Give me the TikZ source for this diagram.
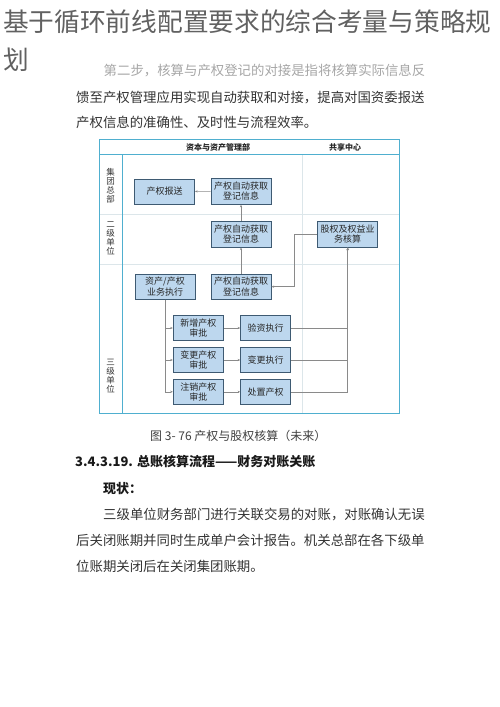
\documentclass[tikz,border=0pt]{standalone}
\usepackage{fontspec}
\setmainfont{Noto Sans CJK SC}
\usepackage{tikz}
\usepackage{xcolor}
\usetikzlibrary{positioning, arrows.meta}
\definecolor{frameblue}{HTML}{4FAFCF}
\definecolor{lanegray}{HTML}{DCE6EA}
\definecolor{boxfill}{HTML}{BDD7EE}
\definecolor{boxline}{HTML}{3E5A72}
\definecolor{wiregray}{HTML}{8A8A8A}

\begin{document}
\begin{tikzpicture}[x=1pt, y=-1pt,
    box/.style = {draw=boxline, fill=boxfill, line width=1pt, minimum width=60pt, minimum height=25pt, inner sep=1pt, align=center, font=\fontsize{9}{10.5}\selectfont, text=black!85},
    smallbox/.style = {box, minimum width=50pt},
    wire/.style = {draw=wiregray, line width=0.6pt, -{Stealth[length=2.6pt, width=2.2pt]}},
    lane/.style = {draw=lanegray, line width=0.6pt},
    rim/.style = {draw=frameblue, line width=1pt},
    lbl/.style = {align=center, font=\fontsize{8.5}{9}\selectfont, text=black!80},
    head/.style = {font=\fontsize{8}{9}\selectfont\bfseries, text=black!85},
    body/.style = {anchor=base west, inner sep=0pt, font=\fontsize{13.4}{16}\selectfont, text=black!80}]
    \useasboundingbox (0,0) rectangle (500,707);

    % title and text above the chart
    \node[anchor=base west, inner sep=0pt, font=\fontsize{25.7}{30}\selectfont, text=black!62] (title1) at (3,31) {基于循环前线配置要求的综合考量与策略规};
    \node[anchor=base west, inner sep=0pt, font=\fontsize{25.7}{30}\selectfont, text=black!62] (title2) at (3,69) {划};
    \node[body, text=black!35] (p1) at (103.5,75) {第二步，核算与产权登记的对接是指将核算实际信息反};
    \node[body] (p2) at (76,102) {馈至产权管理应用实现自动获取和对接，提高对国资委报送};
    \node[body] (p3) at (76,127) {产权信息的准确性、及时性与流程效率。};

    % swim lanes
    \draw[lane] (99.5,214) -- (399,214);
    \draw[lane] (99.5,264) -- (399,264);
    \draw[lane] (302,154) -- (302,413);
    \draw[rim] (99.5,154) -- (399,154);
    \draw[rim] (122,154) -- (122,413);
    \draw[rim] (99.5,139.5) rectangle (399,413);
    \node[head] (hasset) at (218,147) {资本与资产管理部};
    \node[head] (hshare) at (345,147) {共享中心};
    \node[lbl] (lgroup) at (110.5,186) {集\\团\\总\\部};
    \node[lbl] (lsecond) at (110.5,238) {二\\级\\单\\位};
    \node[lbl] (lthird) at (110.5,376) {三\\级\\单\\位};

    % boxes
    \node[box] (bao) at (164.5,191.5) {产权报送};
    \node[box, minimum height=26pt] (zd1) at (241,191.3) {产权自动获取\\登记信息};
    \node[box, minimum height=26pt] (zd2) at (241,234) {产权自动获取\\登记信息};
    \node[box, minimum height=26pt] (gq) at (347.7,234) {股权及权益业\\务核算};
    \node[box] (zc) at (165,286.7) {资产/产权\\业务执行};
    \node[box] (zd3) at (241,286.7) {产权自动获取\\登记信息};
    \node[smallbox] (xz) at (198.3,328) {新增产权\\审批};
    \node[smallbox] (bg) at (198.3,360) {变更产权\\审批};
    \node[smallbox] (zx) at (198.3,391.8) {注销产权\\审批};
    \node[smallbox] (ys) at (265.7,328) {验资执行};
    \node[smallbox] (bz) at (265.7,360) {变更执行};
    \node[smallbox] (cz) at (265.7,391.8) {处置产权};

    % connectors
    \draw[wire] (zd3) -- (zd2);
    \draw[wire] (zd2) -- (zd1);
    \draw[wire] (zd1) -- (bao);
    \draw[wire] (zc.south) |- (xz.west);
    \draw[wire] (zc.south) |- (bg.west);
    \draw[wire] (zc.south) |- (zx.west);
    \draw[wire] (xz) -- (ys);
    \draw[wire] (bg) -- (bz);
    \draw[wire] (zx) -- (cz);
    \draw[wire] (ys.east) -| (gq.south);
    \draw[wire] (bz.east) -| (gq.south);
    \draw[wire] (cz.east) -| (gq.south);
    \coordinate (bend) at (294.3,234);
    \draw[wire] (gq.west) -- (bend) |- (zd3.east);

    % text below the chart
    \node[anchor=base west, inner sep=0pt, font=\fontsize{12}{14}\selectfont, text=black!75] (cap) at (150,440) {图 3- 76 产权与股权核算（未来）};
    \node[body, font=\fontsize{13}{16}\selectfont\bfseries, text=black!90] (sec) at (75,466) {3.4.3.19. 总账核算流程——财务对账关账};
    \node[body, font=\fontsize{13}{16}\selectfont\bfseries, text=black!90] (now) at (103,493) {现状：};
    \node[body] (q1) at (103,519) {三级单位财务部门进行关联交易的对账，对账确认无误};
    \node[body] (q2) at (76,545) {后关闭账期并同时生成单户会计报告。机关总部在各下级单};
    \node[body] (q3) at (76,571) {位账期关闭后在关闭集团账期。};
\end{tikzpicture}
\end{document}
